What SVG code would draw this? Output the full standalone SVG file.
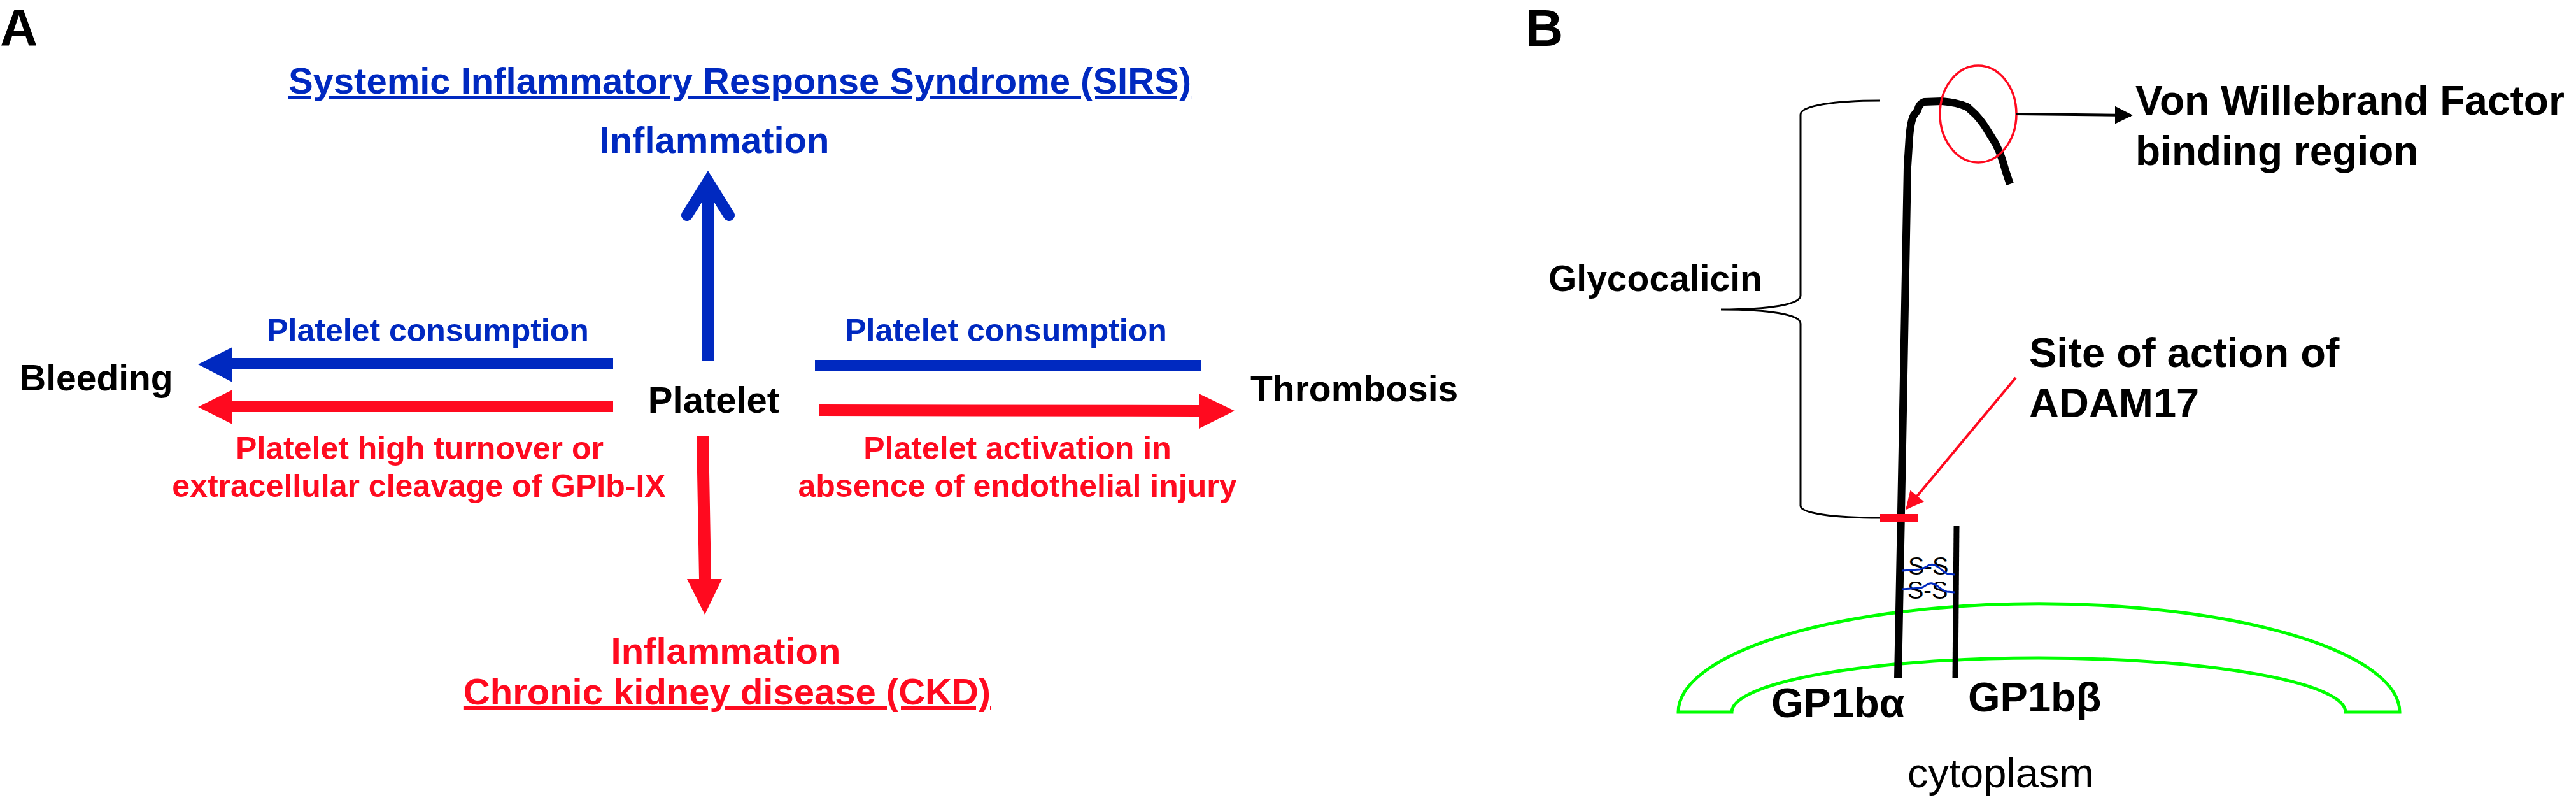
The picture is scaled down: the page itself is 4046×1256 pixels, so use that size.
<svg xmlns="http://www.w3.org/2000/svg" width="4046" height="1256" viewBox="0 0 4046 1256">
<defs>
<style>
text{font-family:"Liberation Sans",Arial,Helvetica,sans-serif;}
.b{font-weight:bold;}
.blue{fill:#0029C0;}
.red{fill:#FF0A1F;}
.blk{fill:#000;}
.panel{font-size:82px;font-weight:bold;}
.big{font-size:58px;font-weight:bold;}
.lab{font-size:50px;font-weight:bold;}
.bl{font-size:65px;font-weight:bold;}
.ul{text-decoration:underline;}
.mid{text-anchor:middle;}
</style>
<marker id="ahBlack" viewBox="0 0 10 10" refX="9" refY="5" markerWidth="7" markerHeight="7" markerUnits="strokeWidth" orient="auto">
<path d="M0,0 L10,5 L0,10 Z" fill="#000"/>
</marker>
<marker id="ahRed" viewBox="0 0 10 10" refX="9" refY="5" markerWidth="8" markerHeight="7" markerUnits="strokeWidth" orient="auto">
<path d="M0,0 L10,5 L0,10 Z" fill="#FF0A1F"/>
</marker>
</defs>
<rect width="4046" height="1256" fill="#fff"/>

<!-- Panel A -->
<g id="labelA"><text x="0" y="71" class="panel blk">A</text></g>
<g id="sirs"><text x="1162" y="147" class="big blue mid ul">Systemic Inflammatory Response Syndrome (SIRS)</text></g>
<g id="inflamBlue"><text x="1122" y="240" class="big blue mid">Inflammation</text></g>
<g id="bleeding"><text x="31" y="613" font-size="57" class="b blk">Bleeding</text></g>
<g id="platelet"><text x="1121" y="648" class="big blk mid">Platelet</text></g>
<g id="thrombosis"><text x="1964" y="630" font-size="57" class="b blk">Thrombosis</text></g>
<g id="inflamRed">
<text x="1140" y="1042" class="big red mid">Inflammation</text>
<text x="1142" y="1106" class="big red mid ul">Chronic kidney disease (CKD)</text>
</g>

<g id="connectorsA">
<!-- up arrow -->
<rect x="1102" y="290" width="19" height="276" fill="#0029C0"/>
<polyline points="1079,338 1112,285 1145,338" fill="none" stroke="#0029C0" stroke-width="18" stroke-linecap="round" stroke-linejoin="miter"/>
<!-- left blue arrow -->
<polygon points="963,562 365,562 365,545 311,572 365,600 365,580 963,580" fill="#0029C0"/>
<!-- right blue bar -->
<rect x="1280" y="565" width="606" height="18" fill="#0029C0"/>
<!-- left red arrow -->
<polygon points="963,629 365,629 365,612 311,639 365,666 365,647 963,647" fill="#FF0A1F"/>
<!-- right red arrow -->
<polygon points="1287,635 1883,636 1883,618 1939,645 1883,673 1883,654 1287,653" fill="#FF0A1F"/>
<!-- down red arrow -->
<polygon points="1094,685 1113,685 1117,909 1134,909 1107,965 1079,909 1098,909" fill="#FF0A1F"/>
<!-- edge labels -->
<text x="672" y="536" class="lab blue mid">Platelet consumption</text>
<text x="1580" y="536" class="lab blue mid">Platelet consumption</text>
<text x="659" y="721" class="lab red mid">Platelet high turnover or</text>
<text x="658" y="780" class="lab red mid">extracellular cleavage of GPIb-IX</text>
<text x="1598" y="721" class="lab red mid">Platelet activation in</text>
<text x="1598" y="780" class="lab red mid">absence of endothelial injury</text>
</g>

<!-- Panel B -->
<g id="labelB"><text x="2396" y="72" class="panel blk">B</text></g>

<g id="membrane">
<path d="M2636,1118 A566,170 0 0 1 3769,1118 L3684,1118 A482,85 0 0 0 2720,1118 Z" fill="none" stroke="#00FF00" stroke-width="5"/>
</g>

<g id="gp1ba">
<path d="M2981,1065 L2988,700 L2992,480 L2996,262 L2999,215 Q3001,190 3006,181 L3012,173 Q3014,163 3022,160 L3050,159 Q3075,161 3090,168 L3103,180 Q3114,192 3121,204 L3134,225 Q3141,238 3145,251 L3150,268 L3157,289" fill="none" stroke="#000" stroke-width="12" stroke-linejoin="round"/>
<rect x="2953" y="807" width="60" height="12" fill="#FF0A1F"/>
<text x="2782" y="1126" class="bl blk">GP1bα</text>
</g>

<g id="gp1bb">
<line x1="3073" y1="826" x2="3071" y2="1065" stroke="#000" stroke-width="9"/>
<text x="3091" y="1117" class="bl blk">GP1bβ</text>
</g>

<g id="disulfide">
<text x="2997" y="902" font-size="38" class="blk">S-S</text>
<text x="2996" y="940" font-size="38" class="blk">S-S</text>
<path d="M2987,896 L3015,894 C3025,892 3030,884 3038,887 C3048,890 3052,900 3060,901 L3070,902" fill="none" stroke="#0029C0" stroke-width="3"/>
<path d="M2987,925 L3017,923 C3025,921 3028,914 3035,916 C3045,919 3050,928 3058,929 L3070,930" fill="none" stroke="#0029C0" stroke-width="3"/>
</g>

<g id="glycocalicin">
<path d="M2953,158 C2880,158 2828,166 2828,180 L2828,464 C2828,478 2780,486 2703,486 C2780,486 2828,494 2828,508 L2828,794 C2828,806 2880,813 2953,813" fill="none" stroke="#000" stroke-width="3"/>
<text x="2432" y="457" font-size="57" class="b blk">Glycocalicin</text>
</g>

<g id="vwfRegion">
<ellipse cx="3107" cy="179" rx="60" ry="76" fill="none" stroke="#FF0A1F" stroke-width="3.5"/>
</g>

<g id="vwfLabel">
<text x="3354" y="180" font-size="64" class="b blk">Von Willebrand Factor</text>
<text x="3354" y="259" font-size="64" class="b blk">binding region</text>
</g>

<g id="adamLabel">
<text x="3187" y="576" class="bl blk">Site of action of</text>
<text x="3187" y="655" class="bl blk">ADAM17</text>
</g>

<g id="cytoplasm"><text x="2996" y="1236" font-size="65" class="blk">cytoplasm</text></g>

<g id="connectorsB">
<line x1="3167" y1="179" x2="3347" y2="181" stroke="#000" stroke-width="4" marker-end="url(#ahBlack)"/>
<line x1="3166" y1="593" x2="2995" y2="798" stroke="#FF0A1F" stroke-width="4" marker-end="url(#ahRed)"/>
</g>
</svg>
